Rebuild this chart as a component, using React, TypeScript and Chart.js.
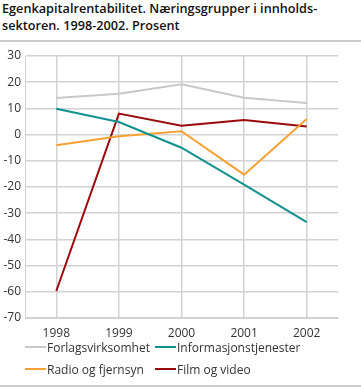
import React, { useEffect, useRef } from "react";
import { Chart, registerables } from "chart.js";

Chart.register(...registerables);

const years = ["1998", "1999", "2000", "2001", "2002"];
const forlag = [14.0, 15.6, 19.2, 14.1, 12.1];
const informasjon = [9.9, 4.8, -5.0, -19.1, -33.4];
const radio = [-4.1, -0.6, 1.3, -15.3, 6.0];
const film = [-59.7, 8.0, 3.4, 5.6, 3.1];

const seriesNames = ["Forlagsvirksomhet", "Informasjonstjenester", "Radio og fjernsyn", "Film og video"];
const seriesColors = ["#c8c8c8", "#11918f", "#f7a033", "#9b0a0a"];

const FONT = "'Open Sans', 'DejaVu Sans', sans-serif";

export default function App() {
  const ref = useRef<HTMLCanvasElement | null>(null);

  useEffect(() => {
    document.body.style.margin = "0";
    const ctx = ref.current!;
    const data = [forlag, informasjon, radio, film];
    const chart = new Chart(ctx, {
      type: "line",
      data: {
        labels: years,
        datasets: data.map((d, i) => ({
          label: seriesNames[i],
          data: d,
          borderColor: seriesColors[i],
          backgroundColor: seriesColors[i],
          borderWidth: 2,
          pointRadius: 0,
          tension: 0,
          fill: false,
        })),
      },
      options: {
        animation: false,
        responsive: false,
        maintainAspectRatio: false,
        layout: { padding: { top: 56, bottom: 49, left: 0, right: 23 } },
        plugins: { legend: { display: false }, tooltip: { enabled: false }, title: { display: false } },
        scales: {
          x: {
            offset: true,
            grid: { offset: false, color: "#d2d2d2", lineWidth: 1.5, drawTicks: false },
            border: { display: true, color: "#d2d2d2" },
            ticks: { color: "#333", font: { family: FONT, size: 12 }, padding: 8, maxRotation: 0 },
            afterFit: (s: any) => { s.height = 20; },
          },
          y: {
            min: -70,
            max: 30,
            grid: { color: "#d2d2d2", lineWidth: 1.5, drawTicks: false },
            border: { display: true, color: "#d2d2d2" },
            ticks: { stepSize: 10, color: "#333", font: { family: FONT, size: 12 }, padding: 4 },
            afterFit: (s: any) => { s.width = 25; },
          },
        },
      },
    });
    return () => chart.destroy();
  }, []);

  const legendItem = (i: number, left: number, top: number) => (
    <div key={i} style={{ position: "absolute", left, top, display: "flex", alignItems: "center", height: 18 }}>
      <div style={{ width: 21, height: 2, background: seriesColors[i], marginRight: 1 }} />
      <span style={{ fontFamily: FONT, fontSize: 12, color: "#333", whiteSpace: "nowrap" }}>{seriesNames[i]}</span>
    </div>
  );

  return (
    <div style={{ position: "relative", width: 361, height: 387, overflow: "hidden", background: "#fff" }}>
      <div
        style={{
          position: "absolute",
          left: 2,
          top: 0,
          fontFamily: FONT,
          fontSize: 12.7,
          fontWeight: 600,
          lineHeight: "17px",
          color: "#111",
          whiteSpace: "nowrap",
        }}
      >
        Egenkapitalrentabilitet. Næringsgrupper i innholds-
        <br />
        sektoren. 1998-2002. Prosent
      </div>
      <div style={{ position: "absolute", left: 0, top: 40, width: 361, height: 2, background: "#cccccc" }} />
      <canvas ref={ref} width={361} height={387} style={{ position: "absolute", left: 0, top: 0, width: 361, height: 387 }} />
      {legendItem(0, 25, 338)}
      {legendItem(1, 155, 338)}
      {legendItem(2, 25, 360)}
      {legendItem(3, 155, 360)}
      <div style={{ position: "absolute", left: 0, top: 385, width: 361, height: 2, background: "#cccccc" }} />
    </div>
  );
}
